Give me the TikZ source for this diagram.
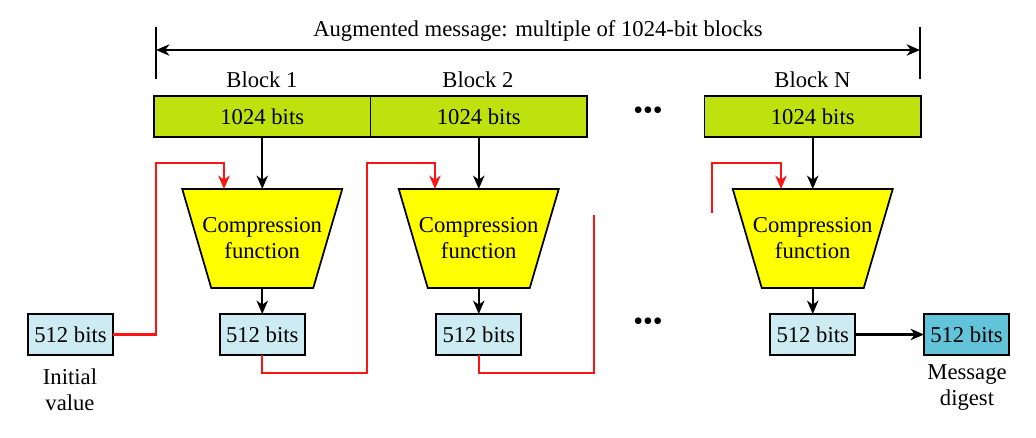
\documentclass[tikz,border=0pt]{standalone}
\usepackage{fontspec}
\setmainfont{Liberation Serif}
\usetikzlibrary{arrows.meta,backgrounds}
\definecolor{blockgreen}{RGB}{191,225,14}
\definecolor{cfyellow}{RGB}{255,255,0}
\definecolor{hashblue}{RGB}{204,235,242}
\definecolor{digestblue}{RGB}{98,195,217}
\definecolor{chainred}{RGB}{255,20,20}
\tikzset{
  txt/.style={font=\fontsize{17}{19.5}\selectfont, inner sep=0pt, outer sep=0pt},
  blockbox/.style={txt, draw=black, line width=1.3pt, fill=blockgreen, minimum width=162.375pt, minimum height=30.75pt, anchor=north west},
  hashbox/.style={txt, draw=black, line width=1.3pt, fill=hashblue, minimum width=63.75pt, minimum height=30.75pt},
  digestbox/.style={hashbox, fill=digestblue},
  cftext/.style={txt, minimum width=120pt, minimum height=74.25pt, align=center},
  cfshape/.style={draw=black, line width=1.3pt, fill=cfyellow},
  tip/.tip={Stealth[length=10pt,width=8.5pt,inset=3pt]},
  blk/.style={line width=1.6pt, draw=black, -tip},
  redarrow/.style={line width=1.7pt, draw=chainred, -tip},
  redline/.style={line width=1.7pt, draw=chainred},
  dotstxt/.style={font=\fontsize{21}{21}\selectfont, inner sep=0pt}
}
\newcommand{\cfdraw}[1]{%
  \begin{scope}[on background layer]
  \path[cfshape] (#1.north west) -- (#1.north east) -- ([xshift=-21.75pt]#1.south east) -- ([xshift=21.75pt]#1.south west) -- cycle;
  \end{scope}}
\begin{document}
\begin{tikzpicture}[x=0.75pt,y=-0.75pt]
\useasboundingbox (0,0) rectangle (1036,437);
% span arrow
\coordinate (tl1) at (156,27); \coordinate (tl2) at (156,79);
\coordinate (tr1) at (920,27); \coordinate (tr2) at (920,79);
\draw[line width=1.3pt] (tl1) -- (tl2);
\draw[line width=1.3pt] (tr1) -- (tr2);
\coordinate (sl) at (156,50); \coordinate (sr) at (920,50);
\draw[line width=1.5pt, tip-tip] (sl) -- (sr);
\node[txt] (title) at (538,31) {Augmented message: multiple of 1024-bit blocks};
% block labels
\node[txt] (bl1) at (262,80) {Block 1};
\node[txt] (bl2) at (478,80) {Block 2};
\node[txt] (blN) at (812.5,80) {Block N};
% blocks
\node[blockbox] (b1) at (154,96) {1024 bits};
\node[blockbox] (b2) at (370.5,96) {1024 bits};
\node[blockbox] (bN) at (704.5,96) {1024 bits};
\node[dotstxt] (dots1) at (648,113) {•••};
\node[dotstxt] (dots2) at (648,324) {•••};
% compression functions
\node[cftext] (c1) at (262.25,238.5) {Compression\\function};
\node[cftext] (c2) at (478.75,238.5) {Compression\\function};
\node[cftext] (cN) at (812.75,238.5) {Compression\\function};
\cfdraw{c1}\cfdraw{c2}\cfdraw{cN}
% hash boxes
\node[hashbox] (h0) at (70.5,334.5) {512 bits};
\node[hashbox] (h1) at (262.25,334.5) {512 bits};
\node[hashbox] (h2) at (478.75,334.5) {512 bits};
\node[hashbox] (hN) at (812.75,334.5) {512 bits};
\node[digestbox] (dg) at (966.5,334.5) {512 bits};
\node[txt, align=center] (ivl) at (70,390) {Initial\\value};
\node[txt, align=center] (mdl) at (967,388) {Message\\digest};
% black arrows
\draw[blk] (b1.south) -- (c1.north);
\draw[blk] (b2.south) -- (c2.north);
\draw[blk] (bN.south) -- (cN.north);
\draw[blk] (c1.south) -- (h1.north);
\draw[blk] (c2.south) -- (h2.north);
\draw[blk] (cN.south) -- (hN.north);
\draw[blk] (hN.east) -- (dg.west);
% red chaining
\coordinate (r1in) at (224,189);
\draw[redarrow] (h0.east) -- (156,334.5) -- (156,163) -- (224,163) -- (r1in);
\coordinate (r2in) at (435,189);
\draw[redarrow] (h1.south) -- (262.25,373) -- (367,373) -- (367,163) -- (435,163) -- (r2in);
\coordinate (r3end) at (594,215);
\draw[redline] (h2.south) -- (478.75,373) -- (594,373) -- (r3end);
\coordinate (r4start) at (712,213);
\coordinate (r4in) at (781,189);
\draw[redarrow] (r4start) -- (712,163) -- (781,163) -- (r4in);
\end{tikzpicture}
\end{document}
